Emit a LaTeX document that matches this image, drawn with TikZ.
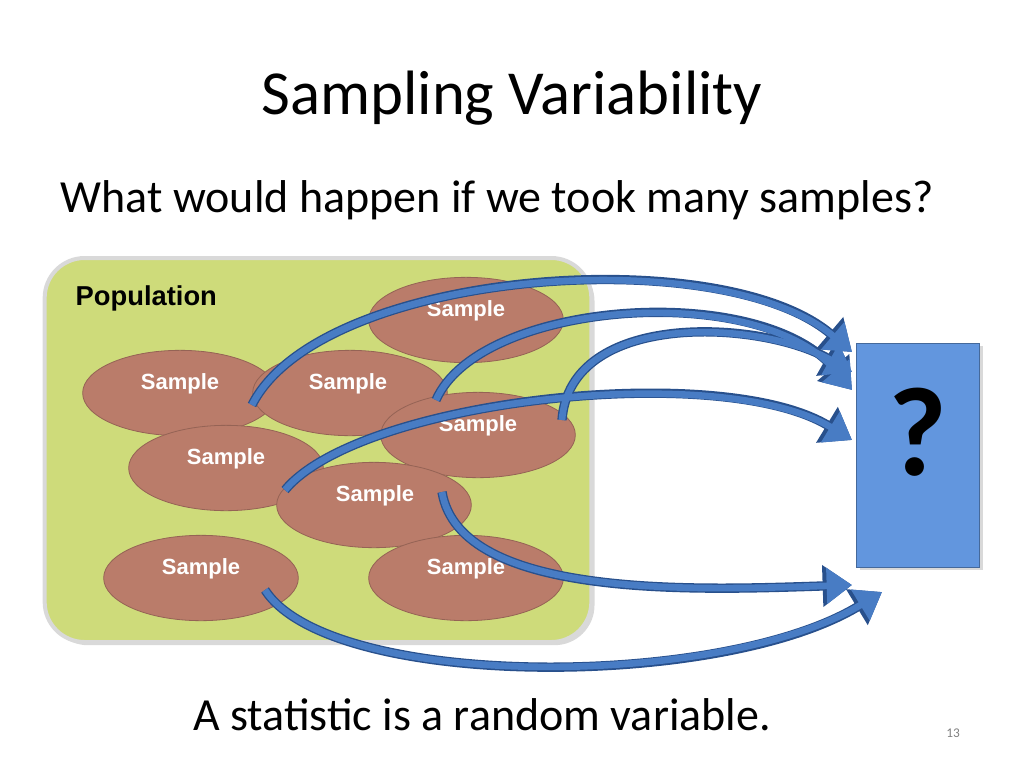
\documentclass[tikz,border=0pt]{standalone}
\usepackage{fontspec}
\setmainfont{Carlito}
\newfontfamily\arialf{Liberation Sans}
\usetikzlibrary{arrows.meta,shadows,shapes.geometric}
\definecolor{pop}{RGB}{206,219,122}
\definecolor{samp}{RGB}{186,124,106}
\definecolor{qbox}{RGB}{98,150,222}
\definecolor{arr}{RGB}{72,124,196}
\definecolor{arrd}{RGB}{40,80,140}
\tikzset{
 smp/.style={ellipse,fill=samp,draw=samp!80!black,line width=0.6pt,minimum width=146pt,minimum height=64pt},
 lbl/.style={font=\arialf\bfseries\fontsize{16.5}{16.5}\selectfont,text=white},
 barr/.style={draw=arrd,line width=7pt,-{Triangle[length=22pt,width=30pt]}},
 barri/.style={draw=arr,line width=5pt,-{Triangle[length=19pt,width=26pt]}},
}
\begin{document}
\begin{tikzpicture}[x=0.75pt,y=-0.75pt]
\useasboundingbox (0,0) rectangle (1024,768);
\node (title) at (512,98) {\fontsize{47}{50}\selectfont Sampling Variability};
\node[anchor=west] (sub) at (56,200) {\fontsize{34.5}{36}\selectfont What would happen if we took many samples?};
\node[draw=white!85!black,line width=3pt,fill=pop,rounded corners=30pt,minimum width=410pt,minimum height=288pt,drop shadow={opacity=0.3}] (pop) at (318,450) {};
\node[anchor=west,font=\arialf\bfseries\fontsize{20.5}{20.5}\selectfont] (poplbl) at (71,298) {Population};
\node[smp] (s1) at (466,320) {};
\node[smp] (s2) at (180,393) {};
\node[smp] (s3) at (350,393) {};
\node[smp] (s4) at (478,435) {};
\node[smp] (s5) at (226,468) {};
\node[smp] (s6) at (374,505) {};
\node[smp] (s7) at (201,578) {};
\node[smp] (s8) at (466,578) {};
\foreach \n/\x/\y in {l1/466/311,l2/180/384,l3/348/384,l4/478/426,l5/226/459,l6/375/496,l7/201/569,l8/466/569}
  \node[lbl] (\n) at (\x,\y) {Sample};
\node[fill=qbox,draw=qbox!70!black,minimum width=92pt,minimum height=168pt,drop shadow={opacity=0.3}] (box) at (918,455) {};
\node[font=\bfseries\fontsize{95}{95}\selectfont] (q) at (918,432) {?};
\coordinate (a1) at (252,405); \coordinate (e1) at (852,352);
\coordinate (a2) at (436,400); \coordinate (e2) at (852,390);
\coordinate (a3) at (285,490); \coordinate (e3) at (852,440);
\coordinate (a4) at (562,420); \coordinate (e4) at (852,372);
\coordinate (a5) at (442,492); \coordinate (e5) at (852,585);
\coordinate (a6) at (265,590); \coordinate (e6) at (882,592);
\foreach \s in {barr,barri}{
\draw[\s] (a1) .. controls (320,270) and (720,240) .. (e1);
\draw[\s] (a2) .. controls (480,300) and (760,280) .. (e2);
\draw[\s] (a3) .. controls (360,400) and (720,360) .. (e3);
\draw[\s] (a4) .. controls (570,310) and (760,320) .. (e4);
\draw[\s] (a5) .. controls (460,600) and (700,590) .. (e5);
\draw[\s] (a6) .. controls (330,690) and (720,690) .. (e6);
}
\node (foot) at (482,715) {\fontsize{34.5}{36}\selectfont A statistic is a random variable.};
\node[text=gray] (pg) at (953,733) {\fontsize{10}{10}\selectfont 13};
\end{tikzpicture}
\end{document}
